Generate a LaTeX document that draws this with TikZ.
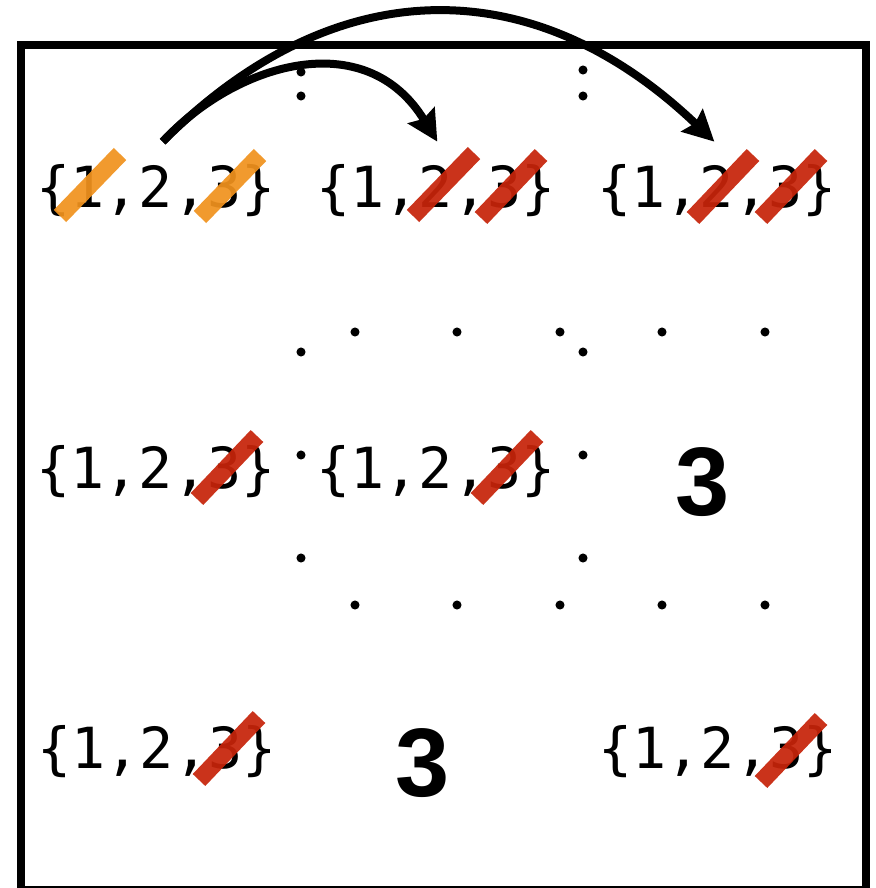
\documentclass[tikz,border=0pt]{standalone}
\usepackage{fontspec}
\newfontfamily\monof{DejaVu Sans Mono}
\newfontfamily\bigsansf{Liberation Sans}
\usetikzlibrary{arrows.meta}
\definecolor{strikeorange}{RGB}{240,146,30}
\definecolor{strikered}{RGB}{198,36,10}
\begin{document}
\begin{tikzpicture}[x=0.75pt,y=-0.75pt,
  settext/.style={font=\monof\fontsize{42.5}{42.5}\selectfont, inner sep=0pt, outer xsep=0pt, outer ysep=18pt, anchor=base, text height=31pt, text depth=10pt},
  bignum/.style={font=\bigsansf\bfseries\fontsize{73}{73}\selectfont, inner sep=0pt, anchor=base},
  arc/.style={line width=6pt, -{Stealth[length=23pt,width=23pt,inset=3pt]}},
  frame/.style={line width=6pt},
  dotc/.style={fill=black},
  strikeo/.style={line width=13pt, draw=strikeorange, opacity=0.93},
  striker/.style={line width=13pt, draw=strikered, opacity=0.93}]
\useasboundingbox (0,0) rectangle (875,888);
\draw[frame] (21,45) rectangle (866,890);
% dots
\foreach \p in {(301,72),(301,96),(583,70),(583,96),
  (355,332),(457,332),(560,332),(662,332),(765,332),
  (301,352),(583,352),(301,455),(583,455),(301,558),(583,558),
  (355,605),(457,605),(560,605),(662,605),(765,605)}
  \fill[dotc] \p circle (3.4pt);
% texts
\node[settext] (t11) at (156,207) {\{1,2,3\}};
\node[settext] (t12) at (436,207) {\{1,2,3\}};
\node[settext] (t13) at (717,207) {\{1,2,3\}};
\node[settext] (t21) at (156,488) {\{1,2,3\}};
\node[settext] (t22) at (436,488) {\{1,2,3\}};
\node[bignum] (b23) at (703,515) {3};
\node[settext] (t31) at (157,768) {\{1,2,3\}};
\node[bignum] (b32) at (423,796) {3};
\node[settext] (t33) at (718,768) {\{1,2,3\}};
% strikes
\draw[strikeo] (60,216) -- (120,154);
\draw[strikeo] (200,217) -- (260,155);
\draw[striker] (413,216) -- (474,153);
\draw[striker] (481,218) -- (541,155);
\draw[striker] (693,218) -- (753,155);
\draw[striker] (761,218) -- (821,155);
\draw[striker] (197,499) -- (257,436);
\draw[striker] (477,499) -- (537,436);
\draw[striker] (199,780) -- (259,717);
\draw[striker] (761,782) -- (821,719);
% arrows
\draw[arc] ([xshift=5pt]t11.north) .. controls +(72,-78) and +(-72,-118) .. ([xshift=1pt]t12.north);
\draw[arc] ([xshift=5pt]t11.north) .. controls +(175,-175) and +(-178,-170) .. ([xshift=-2pt]t13.north);
\end{tikzpicture}
\end{document}
